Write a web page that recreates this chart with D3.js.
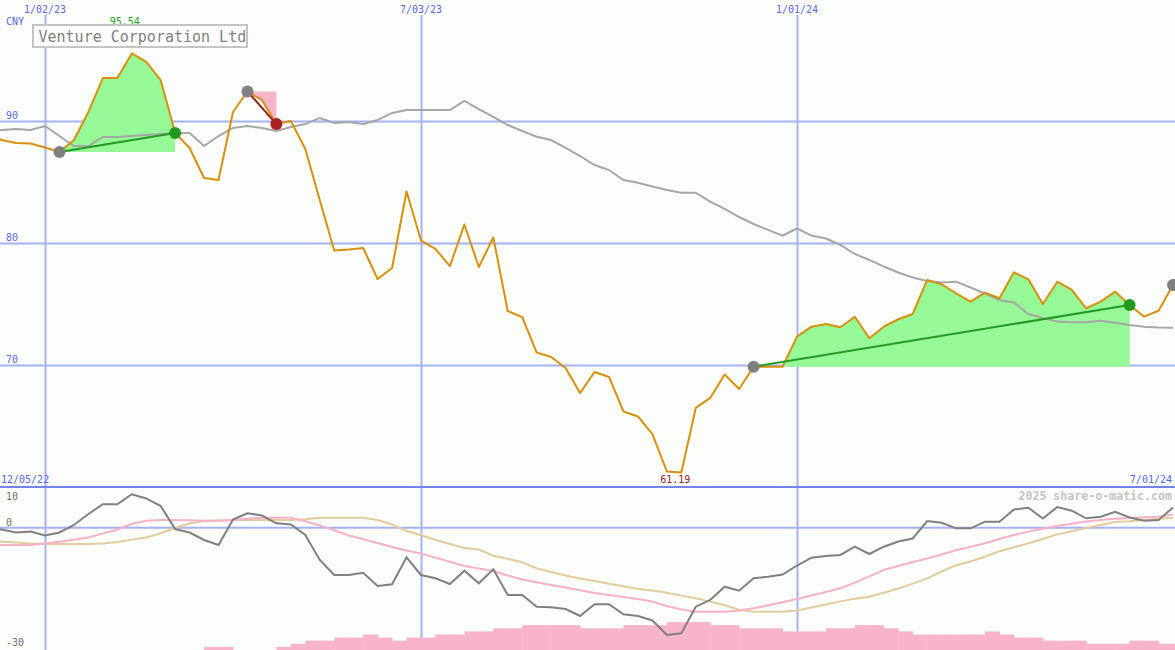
<!DOCTYPE html>
<html><head><meta charset="utf-8">
<script src="https://cdn.jsdelivr.net/npm/d3@7"></script>
<style>html,body{margin:0;padding:0;background:#fcfefc;overflow:hidden}</style>
</head><body>
<svg id="chart" width="1175" height="650"></svg>
<script>
// ---------- DATA ----------
const firstWeek = "2022-12-05";
const lastWeek = "2024-07-01";
const title = "Venture Corporation Ltd";
const currency = "CNY";

// weekly close (CNY)
const price = [89.10, 88.44, 88.20, 88.16, 87.83, 87.46, 88.44, 90.74, 93.52, 93.52,
  95.54, 94.84, 93.36, 89.02, 87.79, 85.33, 85.16, 90.74, 92.42, 91.72,
  89.75, 90.00, 87.70, 83.52, 79.39, 79.47, 79.59, 77.05, 77.95, 84.22,
  80.20, 79.51, 78.11, 81.52, 78.03, 80.45, 74.43, 73.93, 71.02, 70.66,
  69.75, 67.70, 69.43, 69.02, 66.19, 65.78, 64.34, 61.27, 61.19, 66.48,
  67.30, 69.22, 68.03, 69.86, 69.86, 69.86, 72.32, 73.14, 73.36, 73.09,
  73.96, 72.19, 73.14, 73.75, 74.18, 76.97, 76.61, 75.88, 75.19, 75.93,
  75.47, 77.60, 77.02, 75.00, 76.83, 76.15, 74.65, 75.19, 76.01, 74.92,
  73.96, 74.45, 76.56];

// long moving average
const movingAvg = [89.26, 89.26, 89.34, 89.26, 89.59, 88.77, 87.95, 87.95, 88.69, 88.69,
  88.77, 88.85, 88.93, 89.02, 89.02, 87.95, 88.77, 89.43, 89.59, 89.43,
  89.18, 89.51, 89.75, 90.25, 89.84, 89.92, 89.75, 90.08, 90.66, 90.90,
  90.90, 90.90, 90.90, 91.64, 90.98, 90.33, 89.67, 89.18, 88.71, 88.44,
  87.79, 87.13, 86.39, 85.98, 85.16, 84.94, 84.63, 84.34, 84.12, 84.12,
  83.39, 82.79, 82.13, 81.56, 81.07, 80.61, 81.19, 80.61, 80.37, 79.84,
  79.10, 78.61, 78.07, 77.58, 77.17, 76.89, 76.76, 76.83, 76.35, 75.86,
  75.33, 75.12, 74.18, 73.85, 73.57, 73.50, 73.50, 73.63, 73.47, 73.28,
  73.14, 73.07, 73.06];

// lower panel oscillators
const momentum = [-0.34, -0.47, -1.24, -0.98, -2.02, -1.24, 0.70, 3.54, 6.05, 6.05,
  8.63, 7.55, 5.61, -0.34, -1.24, -3.18, -4.47, 2.12, 3.72, 3.15,
  1.14, 0.83, -1.89, -8.35, -12.22, -12.22, -11.63, -15.06, -14.63, -7.65,
  -12.22, -13.07, -14.55, -11.11, -14.37, -10.75, -17.39, -17.39, -20.41, -20.57,
  -21.01, -22.82, -19.79, -19.79, -22.38, -22.82, -23.98, -27.73, -27.29, -20.41,
  -18.68, -15.25, -16.28, -13.07, -12.66, -12.09, -9.77, -7.75, -7.31, -7.05,
  -4.91, -6.80, -4.91, -3.57, -2.79, 1.73, 1.29, -0.16, -0.16, 1.55,
  1.55, 4.70, 5.17, 2.38, 5.35, 4.39, 2.43, 2.82, 4.13, 2.64,
  1.81, 1.99, 5.22];

const fastSignal = [-4.47, -4.47, -4.47, -4.47, -4.08, -3.64, -3.10, -2.53, -1.47, -0.54,
  1.01, 1.78, 1.99, 1.99, 1.91, 1.81, 1.81, 1.99, 2.33, 2.58,
  2.58, 2.58, 1.65, 0.59, -0.65, -2.02, -2.97, -3.95, -4.99, -5.87,
  -6.67, -7.73, -8.79, -9.90, -10.57, -11.19, -12.35, -13.36, -14.08, -14.81,
  -15.48, -16.15, -16.85, -17.39, -17.91, -18.42, -19.07, -20.23, -21.16, -21.71,
  -21.71, -21.71, -21.40, -20.83, -20.05, -19.28, -18.42, -17.52, -16.62, -15.66,
  -14.21, -12.58, -10.93, -9.90, -8.92, -7.96, -6.93, -5.81, -4.91, -4.01,
  -2.92, -1.89, -1.01, -0.28, 0.44, 1.03, 1.60, 1.99, 2.33, 2.53,
  2.69, 2.82, 3.41];

const slowSignal = [-3.57, -3.62, -3.82, -4.08, -4.21, -4.21, -4.21, -4.21, -4.08, -3.67,
  -3.08, -2.51, -1.45, -0.08, 1.16, 1.73, 1.86, 1.99, 1.99, 1.99,
  1.99, 1.99, 2.17, 2.58, 2.58, 2.58, 2.58, 1.99, 0.83, -0.85,
  -1.94, -3.13, -4.21, -5.22, -5.63, -7.24, -8.04, -8.92, -10.52, -11.47,
  -12.35, -13.10, -13.77, -14.50, -15.12, -15.84, -16.20, -16.80, -17.55, -18.24,
  -19.10, -20.05, -21.22, -21.71, -21.71, -21.71, -21.40, -20.62, -19.82, -19.04,
  -18.37, -17.83, -16.82, -15.71, -14.44, -13.10, -11.32, -9.69, -8.73, -7.52,
  -6.07, -5.06, -4.01, -2.92, -1.73, -0.90, -0.08, 0.70, 1.47, 1.65,
  1.99, 2.33, 2.58];

// relative volume level
const volume = [0, 0, 0, 0, 0, 0, 0, 0, 0, 0,
  0, 0, 0, 0, 0, 1, 1, 0, 0, 0,
  1, 2, 3, 3, 4, 4, 5, 4, 3, 4,
  4, 5, 5, 6, 6, 7, 7, 8, 8, 8,
  8, 7, 7, 7, 8, 8, 8, 9, 9, 9,
  8, 8, 7, 7, 7, 6, 6, 6, 7, 7,
  8, 8, 7, 6, 5, 5, 5, 5, 5, 6,
  5, 4, 4, 3, 3, 3, 2, 2, 2, 3,
  3, 2, 2];

// trade signals
const signalFrom = ["2023-01-09", "2023-04-10", "2023-12-11", "2024-07-01"];
const signalTo = ["2023-03-06", "2023-04-24", "2024-06-10", null];
const signalDir = ["up", "down", "up", null];

// axis ticks
const xTickDates = ["2023-01-02", "2023-07-03", "2024-01-01"];
const xTickLabels = ["1/02/23", "7/03/23", "1/01/24"];
const rangeLabels = ["12/05/22", "7/01/24"];
const priceTicks = [90, 80, 70];
const lowerTicks = [10, 0, -30];
const lowerTickLabels = ["10", "0", "-30"];
const credit = "2025 share-o-matic.com";

// ---------- DRAW ----------
const dates = d3.utcMonday.range(new Date(firstWeek), d3.utcDay.offset(new Date(lastWeek), 1));
const idx = s => dates.findIndex(d => +d === +new Date(s));

const svg = d3.select("#chart");
const FONT = "DejaVu Sans Mono, Liberation Mono, monospace";
const BLUE_TXT = "#5868ee", GRID = "#a4b2f4";

const x = d3.scaleUtc().domain([new Date("2023-01-02"), new Date("2024-01-01")]).range([45, 797]);
const y = d3.scaleLinear().domain([60, 100]).range([487, -1]);
const yl = d3.scaleLinear().domain([-30, 10]).range([643.8, 489]);
const yv = d3.scaleLinear().domain([0, 10]).range([650, 619]);

svg.append("rect").attr("width", 1175).attr("height", 650).attr("fill", "#fcfefc");

const defs = svg.append("defs");
defs.append("clipPath").attr("id", "cm").append("rect").attr("x", 0).attr("y", 0).attr("width", 1175).attr("height", 486);
defs.append("clipPath").attr("id", "cl").append("rect").attr("x", 0).attr("y", 489).attr("width", 1175).attr("height", 161);

// gridlines main
const yAxis = d3.axisLeft(y).tickValues(priceTicks).tickSize(-1175).tickFormat("");
const gy = svg.append("g").attr("transform", "translate(0,0)").call(yAxis);
gy.select(".domain").remove();
gy.selectAll("line").attr("stroke", GRID).attr("stroke-width", 2);

// vertical gridlines (through both panels)
const xAxis = d3.axisTop(x).tickValues(xTickDates.map(d => new Date(d))).tickSize(-636).tickFormat("");
const gx = svg.append("g").attr("transform", "translate(0,15)").call(xAxis);
gx.select(".domain").remove();
gx.selectAll("line").attr("stroke", GRID).attr("stroke-width", 2);

// lower zero line
svg.append("line").attr("x1", 0).attr("x2", 1175).attr("y1", yl(0)).attr("y2", yl(0))
  .attr("stroke", GRID).attr("stroke-width", 2);

// separator
svg.append("line").attr("x1", 0).attr("x2", 1175).attr("y1", y(60)).attr("y2", y(60))
  .attr("stroke", "#7283ea").attr("stroke-width", 2);

// ---- main panel ----
const gm = svg.append("g").attr("clip-path", "url(#cm)");

// signal fills
signalFrom.forEach((s, j) => {
  if (!signalTo[j]) return;
  const i0 = idx(s), i1 = idx(signalTo[j]);
  const pts = d3.range(i0, i1 + 1);
  const area = d3.area().x(i => x(dates[i])).y0(y(price[i0])).y1(i => y(price[i]));
  gm.append("path").attr("d", area(pts))
    .attr("fill", signalDir[j] === "up" ? "#96f896" : "#f8b4c8");
});

const line = d3.line().x((d, i) => x(dates[i]));
gm.append("path").attr("d", line.y(d => y(d))(movingAvg))
  .attr("fill", "none").attr("stroke", "#a6a6a6").attr("stroke-width", 2);
gm.append("path").attr("d", d3.line().x((d, i) => x(dates[i])).y(d => y(d))(price))
  .attr("fill", "none").attr("stroke", "#d8900c").attr("stroke-width", 2).attr("stroke-linejoin", "round");

// trend lines and dots
signalFrom.forEach((s, j) => {
  const i0 = idx(s);
  if (signalTo[j]) {
    const i1 = idx(signalTo[j]);
    gm.append("line").attr("x1", x(dates[i0])).attr("y1", y(price[i0]))
      .attr("x2", x(dates[i1])).attr("y2", y(price[i1]))
      .attr("stroke", signalDir[j] === "up" ? "#229a22" : "#9a1c1c").attr("stroke-width", 2);
  }
});
signalFrom.forEach((s, j) => {
  const i0 = idx(s);
  gm.append("circle").attr("cx", x(dates[i0])).attr("cy", y(price[i0])).attr("r", 6).attr("fill", "#808080");
  if (signalTo[j]) {
    const i1 = idx(signalTo[j]);
    gm.append("circle").attr("cx", x(dates[i1])).attr("cy", y(price[i1])).attr("r", 6)
      .attr("fill", signalDir[j] === "up" ? "#229a22" : "#a82020");
  }
});

// ---- lower panel ----
const gl = svg.append("g").attr("clip-path", "url(#cl)");
const step = x(dates[1]) - x(dates[0]);
gl.selectAll("rect.vol").data(volume).join("rect").attr("class", "vol")
  .attr("x", (d, i) => x(dates[i])).attr("width", step + 0.5)
  .attr("y", d => yv(d)).attr("height", d => 650 - yv(d))
  .attr("fill", "#f8b4c8");

const lowerLine = d3.line().x((d, i) => x(dates[i])).y(d => yl(d));
gl.append("path").attr("d", lowerLine(slowSignal)).attr("fill", "none").attr("stroke", "#e2cc9c").attr("stroke-width", 2);
gl.append("path").attr("d", lowerLine(fastSignal)).attr("fill", "none").attr("stroke", "#f8b0c8").attr("stroke-width", 2);
gl.append("path").attr("d", lowerLine(momentum)).attr("fill", "none").attr("stroke", "#808080").attr("stroke-width", 2);

// ---- text ----
const txt = (t, xx, yy, o = {}) => svg.append("text").text(t).attr("x", xx).attr("y", yy)
  .attr("font-family", FONT).attr("font-size", o.size || 10).attr("fill", o.fill || BLUE_TXT)
  .attr("text-anchor", o.anchor || "start").attr("font-weight", o.weight || "normal");

xTickDates.forEach((d, i) => txt(xTickLabels[i], x(new Date(d)), 12.5, { anchor: "middle" }));
txt(currency, 6, 25);
priceTicks.forEach(v => txt(String(v), 6, y(v) - 2));
txt(rangeLabels[0], 1, 483);
txt(rangeLabels[1], 1172, 483, { anchor: "end" });
txt(credit, 1172, 500, { anchor: "end", fill: "#c4c4c4", size: 11.6, weight: "bold" });
lowerTicks.forEach((v, i) => txt(lowerTickLabels[i], 6, i === 0 ? yl(v) + 11 : (i === 1 ? yl(v) - 2 : yl(v) + 2), { fill: "#707070" }));

// max / min labels
const iMax = d3.maxIndex(price), iMin = d3.minIndex(price);
txt(d3.format(".2f")(price[iMax]), x(dates[iMax]) - 7, 25, { anchor: "middle", fill: "#20a020" });
txt(d3.format(".2f")(price[iMin]), x(dates[iMin]) - 6, 483, { anchor: "middle", fill: "#a02020" });

// title box
svg.append("rect").attr("x", 33).attr("y", 25).attr("width", 214).attr("height", 22)
  .attr("fill", "#ffffff").attr("stroke", "#c4c4c4").attr("stroke-width", 2);
txt(title, 38.5, 41.5, { size: 15, fill: "#808080" });
</script>
</body></html>
